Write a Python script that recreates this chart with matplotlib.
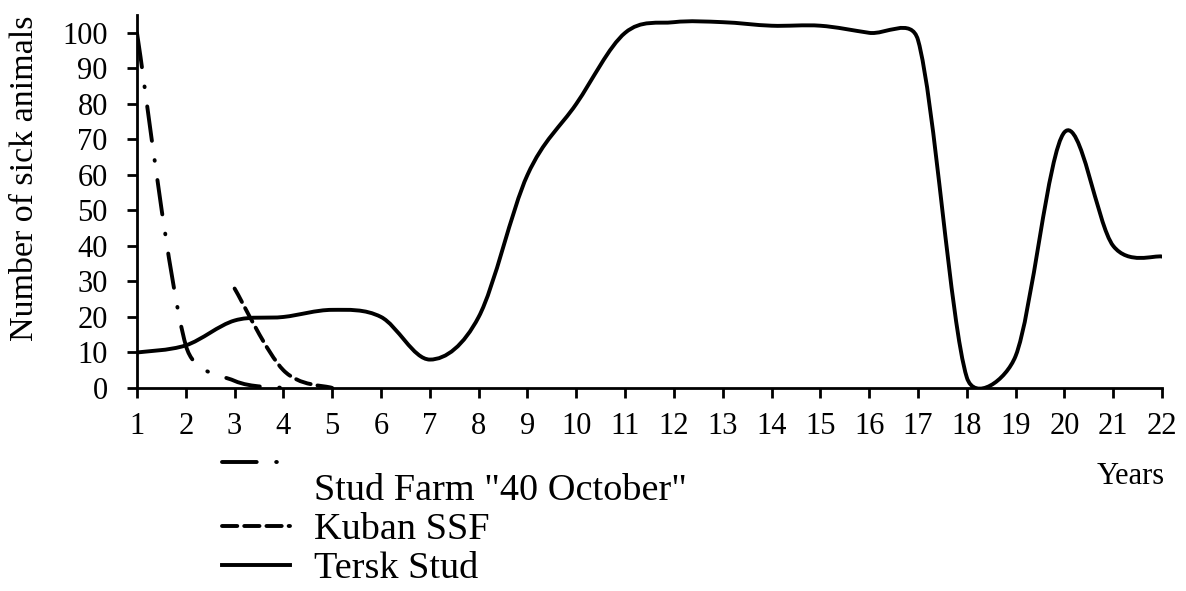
import matplotlib.pyplot as plt
import numpy as np
from matplotlib.path import Path
from matplotlib.patches import PathPatch
from matplotlib.lines import Line2D
from matplotlib.legend_handler import HandlerLine2D

plt.rcParams['font.family'] = ['Liberation Serif', 'DejaVu Serif']
plt.rcParams['lines.scale_dashes'] = False

# data (number of sick animals per year)
years = list(range(1, 23))
stud_x = [1, 2, 3, 4]
stud_y = [100, 12, 2, 0]
kuban_x = [3, 4, 5]
kuban_y = [28, 5, 0]
tersk_y = [10, 12, 19, 20, 22, 20, 8, 20, 60, 80, 100, 103,
           103, 102, 102, 100, 98, 3, 9, 72, 40, 37]

labels = ['Stud Farm "40 October"', 'Kuban SSF', 'Tersk Stud']
styles = [(0, (25, 14, 0.5, 14)), (0, (11, 5)), '-']

fig = plt.figure(figsize=(11.86, 5.91), dpi=100)
ax = fig.add_axes([0.1155, 0.3435, 0.8643, 0.631])
xmin, xmax, ymin, ymax = 1, 22, 0, 105
# pixel size of one data unit, used so the smoothing works in screen space
kx = 1186 * 0.8643 / (xmax - xmin)
ky = 591 * 0.631 / (ymax - ymin)


def smooth_path(x, y):
    # spreadsheet-like smoothed line: bezier arms of 1/6, capped at half a segment
    k = np.array([kx, ky])
    pts = np.column_stack([x, y]).astype(float) * k
    ext = np.vstack([pts[0], pts, pts[-1]])
    verts = [pts[0]]
    codes = [Path.MOVETO]
    for i in range(1, len(ext) - 2):
        p0, p1, p2, p3 = ext[i - 1], ext[i], ext[i + 1], ext[i + 2]
        d12 = np.linalg.norm(p2 - p1)
        a = (p2 - p0) / 6
        b = (p3 - p1) / 6
        if np.linalg.norm(a) > d12 / 2:
            a = a * (d12 / 2) / np.linalg.norm(a)
        if np.linalg.norm(b) > d12 / 2:
            b = b * (d12 / 2) / np.linalg.norm(b)
        verts += [p1 + a, p2 - b, p2]
        codes += [Path.CURVE4] * 3
    return Path(np.array(verts) / k, codes)


class RaisedHandler(HandlerLine2D):
    # the first legend sample sits above its text in the original
    def create_artists(self, legend, orig_handle, xdescent, ydescent,
                       width, height, fontsize, trans):
        arts = super().create_artists(legend, orig_handle, xdescent, ydescent,
                                      width, height, fontsize, trans)
        for a in arts:
            a.set_ydata(np.asarray(a.get_ydata()) + 0.65 * fontsize)
        return arts


series = [(stud_x, stud_y), (kuban_x, kuban_y), (years, tersk_y)]
handles = []
for (sx, sy), ls in zip(series, styles):
    p = PathPatch(smooth_path(sx, sy), fill=False, edgecolor='black',
                  lw=2.8, linestyle=ls, capstyle='round')
    ax.add_patch(p)
    handles.append(Line2D([], [], color='black', lw=2.8, linestyle=ls,
                          dash_capstyle='round'))

ax.set_xlim(xmin, xmax)
ax.set_ylim(ymin, ymax)
ax.set_xticks(years)
ax.set_yticks(range(0, 101, 10))
for s in ['top', 'right']:
    ax.spines[s].set_visible(False)
for s in ['left', 'bottom']:
    ax.spines[s].set_linewidth(2)
ax.tick_params(axis='both', direction='out', length=7, width=2,
               labelsize=22)
ax.tick_params(axis='x', pad=10)
ax.tick_params(axis='y', pad=14)

ax.set_ylabel('Number of sick animals', fontsize=24.5)
ax.yaxis.set_label_coords(-0.095, 0.563)
ax.text(0.969, -0.236, 'Years', transform=ax.transAxes, fontsize=22,
        ha='center', va='center')

fig.legend(handles, labels, loc='upper left',
           bbox_to_anchor=(222 / 1186, 1 - 473 / 591), frameon=False,
           fontsize=27.5, handlelength=1.77, handletextpad=0.65,
           labelspacing=0.12, borderpad=0, borderaxespad=0,
           handler_map={handles[0]: RaisedHandler()})

fig.savefig('out.png', dpi=100)
